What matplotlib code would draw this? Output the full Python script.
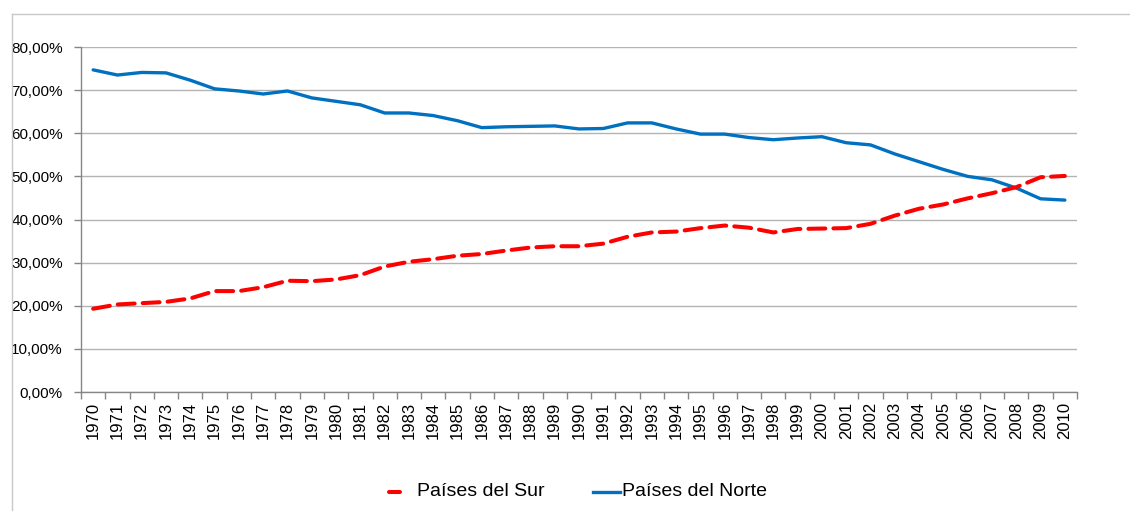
import matplotlib
matplotlib.use("Agg")
import matplotlib.pyplot as plt
from matplotlib.ticker import FuncFormatter, MultipleLocator, FixedLocator
from matplotlib.lines import Line2D

years = [str(y) for y in range(1970, 2011)]
sur = [19.3, 20.3, 20.6, 20.9, 21.7, 23.4, 23.4, 24.3, 25.8, 25.7, 26.1, 27.1,
       29.1, 30.2, 30.8, 31.6, 32.0, 32.8, 33.5, 33.8, 33.8, 34.4, 36.0, 37.0,
       37.2, 38.0, 38.6, 38.1, 37.0, 37.8, 37.9, 38.0, 39.0, 40.9, 42.5, 43.5,
       44.9, 46.1, 47.5, 49.8, 50.1]
norte = [74.7, 73.5, 74.1, 74.0, 72.3, 70.3, 69.8, 69.1, 69.8, 68.2, 67.4, 66.6,
         64.7, 64.7, 64.1, 62.9, 61.3, 61.5, 61.6, 61.7, 61.0, 61.1, 62.4, 62.4,
         61.0, 59.8, 59.8, 59.0, 58.5, 58.9, 59.2, 57.8, 57.3, 55.2, 53.4, 51.6,
         50.0, 49.2, 47.3, 44.8, 44.5]
label_sur = "Países del Sur"
label_norte = "Países del Norte"

W, H = 1130, 511
fig = plt.figure(figsize=(W / 100, H / 100), dpi=100)
plt.rcParams['font.family'] = ['Liberation Sans', 'DejaVu Sans']

def fx(px):
    return px / W

def fy(py):
    return 1 - py / H

# outer chart border (left and top visible)
fig.add_artist(Line2D([fx(12), fx(12)], [0, fy(14)], color='#c8c8c8', lw=1.0))
fig.add_artist(Line2D([fx(12), 1.0], [fy(14), fy(14)], color='#c8c8c8', lw=1.0))

ax = fig.add_axes([fx(81), fy(392), (1077 - 81) / W, (392 - 47) / H])
x = list(range(len(years)))
ax.plot(x, norte, color='#0070C0', lw=2.4, solid_capstyle='round', label=label_norte, zorder=3)
ax.plot(x, sur, color='#FF0000', lw=2.9, dashes=(4.2, 2.0), dash_capstyle='round',
        label=label_sur, zorder=4)

ax.set_xlim(-0.5, len(years) - 0.5)
ax.set_ylim(0, 80)
ax.yaxis.set_major_locator(MultipleLocator(10))
ax.yaxis.set_major_formatter(FuncFormatter(lambda v, p: f"{v:.2f}".replace('.', ',') + "%"))
ax.grid(axis='y', color='#b3b3b3', lw=1.0)
ax.set_axisbelow(True)

ax.set_xticks(x)
ax.set_xticklabels(years, rotation=90, fontsize=12)
ax.xaxis.set_major_locator(FixedLocator(x))
ax.set_xticks([i - 0.5 for i in range(len(years) + 1)], minor=True)
ax.tick_params(axis='x', which='major', length=0, pad=7)
ax.tick_params(axis='x', which='minor', length=5, color='#868686', width=1)
ax.tick_params(axis='y', length=5, color='#868686', width=1, labelsize=11, pad=8)

for s in ['top', 'right']:
    ax.spines[s].set_visible(False)
for s in ['left', 'bottom']:
    ax.spines[s].set_color('#868686')
    ax.spines[s].set_linewidth(1.0)

# legend (drawn as in the original: short red dash, longer blue line)
ly = fy(492)
fig.add_artist(Line2D([fx(389), fx(400)], [ly, ly], color='#FF0000', lw=2.9,
                      solid_capstyle='round'))
fig.text(fx(417), ly, label_sur, fontsize=14, va='center', ha='left')
fig.add_artist(Line2D([fx(593), fx(620)], [ly, ly], color='#0070C0', lw=2.4))
fig.text(fx(622), ly, label_norte, fontsize=14, va='center', ha='left')

fig.savefig("out.png", dpi=100)
